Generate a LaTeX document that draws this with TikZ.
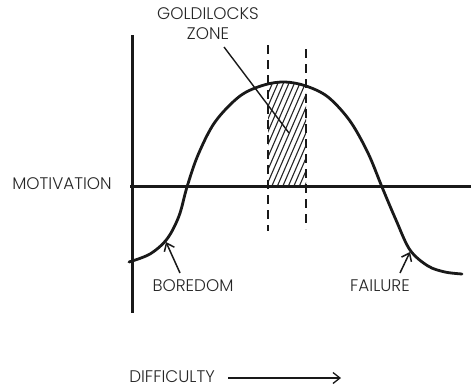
\documentclass[tikz,border=0pt]{standalone}
\usepackage{fontspec}
\setmainfont{Poppins}[UprightFont=* Light]
\usetikzlibrary{arrows.meta}
\begin{document}
\begin{tikzpicture}[x=1pt,y=-1pt,
  lbl/.style={text=black!85, font=\fontsize{16.8}{20}\selectfont, inner sep=1pt},
  axis/.style={line width=3pt, black!90},
  curve/.style={line width=2.8pt, black!90, line cap=round},
  guide/.style={line width=2pt, black!90, dash pattern=on 9pt off 6pt},
  hatch/.style={line width=1.1pt, black!85},
  pointer/.style={line width=1.4pt, black!90},
  callout/.style={line width=1.5pt, black!90, -{Straight Barb[length=7pt,width=11pt]}}]
\useasboundingbox (0,0) rectangle (472,388);
\def\curvepath{plot[smooth, tension=0.55] coordinates {(129,262) (150,254) (167,239) (179,216) (187,187) (198,155) (215,122) (240,96) (264,85) (285,82) (306,86) (328,97) (350,121) (368,153) (382,187) (396,220) (410,250) (428,266) (445,272) (462,274)}}
% hatched zone
\begin{scope}
  \clip (268,187) rectangle (306,60);
  \clip \curvepath -- (462,400) -- (129,400) -- cycle;
  \foreach \i in {180,185.5,...,330} {
    \draw[hatch] (\i,195) -- (\i+52,75);
  }
\end{scope}
% axes
\coordinate (ytop) at (132,35);
\coordinate (ybot) at (132,313);
\coordinate (xl) at (130,186);
\coordinate (xr) at (471,186);
\draw[axis] (ytop) -- (ybot);
\draw[axis] (xl) -- (xr);
% curve
\draw[curve] \curvepath;
% dashed guides
\coordinate (d1t) at (268,45);
\coordinate (d1b) at (268,231);
\coordinate (d2t) at (306,49);
\coordinate (d2b) at (306,229);
\draw[guide] (d1t) -- (d1b);
\draw[guide] (d2t) -- (d2b);
% labels
\node[lbl] (mot) at (62,184) {MOTIVATION};
\node[lbl, align=center, font=\fontsize{16.8}{20}\selectfont] (gz) at (208,24) {GOLDILOCKS\\ZONE};
\node[lbl] (bor) at (193,286) {BOREDOM};
\node[lbl] (fail) at (380,286) {FAILURE};
\node[lbl] (diff) at (172,377) {DIFFICULTY};
% pointers
\coordinate (gzend) at (289,133);
\draw[pointer] (224,47) -- (gzend);
\coordinate (borhead) at (166,242);
\coordinate (failhead) at (410,252);
\coordinate (diffend) at (341,378);
\draw[callout] (180,273) -- (borhead);
\draw[callout] (400,273) -- (failhead);
\draw[callout, line width=1.3pt] (228,378) -- (diffend);
\end{tikzpicture}
\end{document}
